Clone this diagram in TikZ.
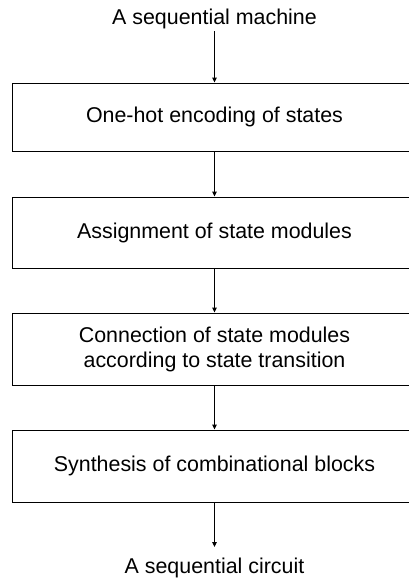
\documentclass[tikz,border=0pt]{standalone}
\usepackage{fontspec}
\setmainfont{Liberation Sans}
\usetikzlibrary{arrows.meta}
\begin{document}
\begin{tikzpicture}[x=1pt,y=-1pt,
  font=\fontsize{21.4pt}{25pt}\selectfont,
  stepbox/.style={draw=black,line width=1pt,minimum width=405pt,inner sep=0pt,align=center},
  label text/.style={inner sep=0pt,text height=15.3pt,text depth=4.5pt},
  flow/.style={line width=1pt,-{Triangle[length=5pt,width=4.5pt]}}]
  \useasboundingbox (0,0) rectangle (409,584);
  % input and output
  \node[label text,inner ysep=2pt] (top) at (214.5,19) {A sequential machine};
  \node[label text,anchor=north,inner ysep=11pt] (bottom) at (214.5,547) {A sequential circuit};
  % design steps
  \node[stepbox,minimum height=68pt] (b1) at (214.5,117) {One-hot encoding of states};
  \node[stepbox,minimum height=71pt] (b2) at (214.5,232.5) {Assignment of state modules};
  \node[stepbox,minimum height=72pt] (b3) at (214.5,349) {Connection of state modules\\according to state transition};
  \node[stepbox,minimum height=72pt] (b4) at (214.5,466) {Synthesis of combinational blocks};
  % flow arrows
  \draw[flow] (top) -- (b1);
  \draw[flow] (b1) -- (b2);
  \draw[flow] (b2) -- (b3);
  \draw[flow] (b3) -- (b4);
  \draw[flow] (b4) -- (bottom);
\end{tikzpicture}
\end{document}
